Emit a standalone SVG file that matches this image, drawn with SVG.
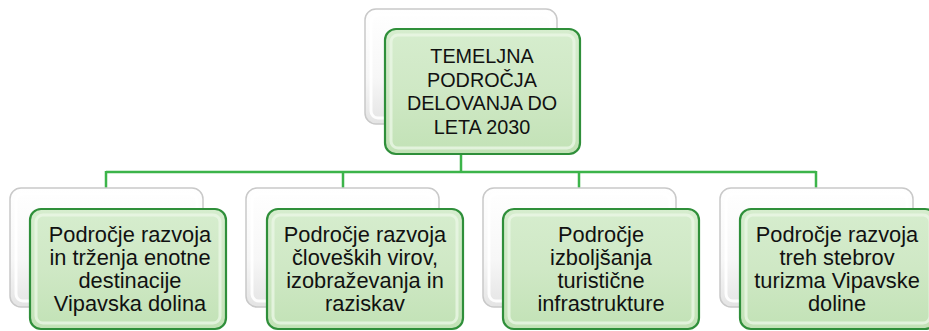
<svg xmlns="http://www.w3.org/2000/svg" width="929" height="331" viewBox="0 0 929 331">
<defs>
<linearGradient id="gBack" x1="0" y1="0" x2="0" y2="1">
<stop offset="0" stop-color="#ffffff"/>
<stop offset="0.6" stop-color="#f7f7f7"/>
<stop offset="1" stop-color="#e4e4e4"/>
</linearGradient>
<linearGradient id="gGreen" x1="0" y1="0" x2="0" y2="1">
<stop offset="0" stop-color="#d6edce"/>
<stop offset="0.5" stop-color="#cfe8c5"/>
<stop offset="1" stop-color="#c2e2b6"/>
</linearGradient>
</defs>
<style>
.back{fill:url(#gBack);stroke:#c9c9c9;stroke-width:1.5}
.backIn{fill:none;stroke:#ffffff;stroke-width:3;opacity:0.9}
.green{fill:url(#gGreen);stroke:#2f8f3a;stroke-width:2.2}
.greenIn{fill:none;stroke:#eaf6e5;stroke-width:3;opacity:0.8}
.conn{fill:none;stroke:#3cb44a;stroke-width:2.5}
text{font-family:"Liberation Sans",Arial,sans-serif;fill:#111;text-anchor:middle}
.t{font-size:19.8px}
.b{font-size:21.8px}
</style>
<g id="connectors">
<path class="conn" d="M461,154 V172 M106,172 H816 M106,171 V189 M343,171 V189 M579,171 V189 M816,171 V189"/>
</g>
<g id="root">
<rect class="back" x="365" y="9" width="192" height="115" rx="11"/>
<rect class="backIn" x="371" y="15" width="180" height="103" rx="7"/>
<rect class="green" x="385" y="29" width="195" height="125" rx="11"/>
<rect class="greenIn" x="391" y="35" width="183" height="113" rx="7"/>
<text class="t" x="482" y="63">TEMELJNA</text>
<text class="t" x="482" y="86.5">PODROČJA</text>
<text class="t" x="482" y="110">DELOVANJA DO</text>
<text class="t" x="482" y="133.5">LETA 2030</text>
</g>
<g id="node1">
<rect class="back" x="10" y="188" width="193" height="119" rx="11"/>
<rect class="backIn" x="16" y="194" width="181" height="107" rx="7"/>
<rect class="green" x="30" y="209" width="196" height="120" rx="11"/>
<rect class="greenIn" x="36" y="215" width="184" height="108" rx="7"/>
<text class="b" x="130" y="241.5">Področje razvoja</text>
<text class="b" x="130" y="264.5">in trženja enotne</text>
<text class="b" x="130" y="287.5">destinacije</text>
<text class="b" x="130" y="310.5">Vipavska dolina</text>
</g>
<g id="node2">
<rect class="back" x="246" y="188" width="193" height="119" rx="11"/>
<rect class="backIn" x="252" y="194" width="181" height="107" rx="7"/>
<rect class="green" x="267" y="209" width="196" height="120" rx="11"/>
<rect class="greenIn" x="273" y="215" width="184" height="108" rx="7"/>
<text class="b" x="365" y="241.5">Področje razvoja</text>
<text class="b" x="365" y="264.5">človeških virov,</text>
<text class="b" x="365" y="287.5">izobraževanja in</text>
<text class="b" x="365" y="310.5">raziskav</text>
</g>
<g id="node3">
<rect class="back" x="483" y="188" width="193" height="119" rx="11"/>
<rect class="backIn" x="489" y="194" width="181" height="107" rx="7"/>
<rect class="green" x="503" y="209" width="196" height="120" rx="11"/>
<rect class="greenIn" x="509" y="215" width="184" height="108" rx="7"/>
<text class="b" x="601" y="241.5">Področje</text>
<text class="b" x="601" y="264.5">izboljšanja</text>
<text class="b" x="601" y="287.5">turistične</text>
<text class="b" x="601" y="310.5">infrastrukture</text>
</g>
<g id="node4">
<rect class="back" x="720" y="188" width="193" height="119" rx="11"/>
<rect class="backIn" x="726" y="194" width="181" height="107" rx="7"/>
<rect class="green" x="740" y="209" width="196" height="120" rx="11"/>
<rect class="greenIn" x="746" y="215" width="184" height="108" rx="7"/>
<text class="b" x="837" y="241.5">Področje razvoja</text>
<text class="b" x="837" y="264.5">treh stebrov</text>
<text class="b" x="837" y="287.5">turizma Vipavske</text>
<text class="b" x="837" y="310.5">doline</text>
</g>
</svg>
